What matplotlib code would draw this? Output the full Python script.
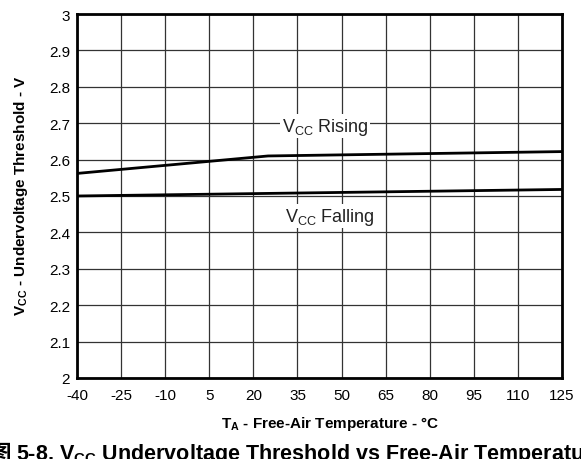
import matplotlib
matplotlib.use('Agg')
import matplotlib.pyplot as plt

# Data
temp_rising = [-40, 25, 125]
vcc_rising = [2.562, 2.61, 2.622]
temp_falling = [-40, 125]
vcc_falling = [2.50, 2.518]

x_ticks = [-40, -25, -10, 5, 20, 35, 50, 65, 80, 95, 110, 125]
y_ticks = [2, 2.1, 2.2, 2.3, 2.4, 2.5, 2.6, 2.7, 2.8, 2.9, 3]
y_tick_labels = ['2', '2.1', '2.2', '2.3', '2.4', '2.5', '2.6', '2.7', '2.8', '2.9', '3']

plt.rcParams['font.family'] = ['Liberation Sans', 'Noto Sans CJK SC', 'DejaVu Sans']
plt.rcParams['mathtext.default'] = 'regular'
plt.rcParams['axes.unicode_minus'] = False

W, H = 581, 460
fig = plt.figure(figsize=(W / 100, H / 100), dpi=100)
# axes frame: left 77px, right 562px, top 15px, bottom 379px
ax = fig.add_axes([77 / W, 1 - 379 / H, 485 / W, 364 / H])

ax.plot(temp_rising, vcc_rising, color='black', lw=2, zorder=3)
ax.plot(temp_falling, vcc_falling, color='black', lw=2, zorder=3)

ax.set_xlim(-40, 125)
ax.set_ylim(2, 3)
ax.set_xticks(x_ticks)
ax.set_yticks(y_ticks)
ax.set_yticklabels(y_tick_labels)
ax.tick_params(axis='x', length=0, labelsize=11, pad=7)
ax.tick_params(axis='y', length=0, labelsize=11, pad=5)
ax.grid(True, color='#333333', lw=0.9)
ax.set_axisbelow(True)
for s in ax.spines.values():
    s.set_linewidth(2)

bbox = dict(facecolor='white', edgecolor='none', pad=1)
ax.text(44.4, 2.692, r'V$_{CC}$ Rising', fontsize=13, ha='center', va='center',
        color='#222222', bbox=bbox, zorder=4)
ax.text(46, 2.445, r'V$_{CC}$ Falling', fontsize=13, ha='center', va='center',
        color='#222222', bbox=bbox, zorder=4)

ax.set_xlabel(r'T$_A$ - Free-Air Temperature - °C', fontsize=11, fontweight='bold', va='center')
ax.xaxis.set_label_coords((330 - 77) / 485, -(424 - 379) / 364)
ax.set_ylabel(r'V$_{CC}$ - Undervoltage Threshold - V', fontsize=11, fontweight='bold', va='center')
ax.yaxis.set_label_coords((21 - 77) / 485, (379 - 196) / 364)

# caption, partly cut off at the edges as in the reference
fig.text(16 / W, 0.0, r'5-8. V$_{CC}$ Undervoltage Threshold vs Free-Air Temperature',
         fontsize=15.5, fontweight='bold', ha='left', va='baseline')
fig.text(11 / W, 0.0, '图', family=['Noto Sans CJK SC'],
         fontsize=15.5, fontweight='bold', ha='right', va='baseline')

fig.savefig('out.png', dpi=100)
